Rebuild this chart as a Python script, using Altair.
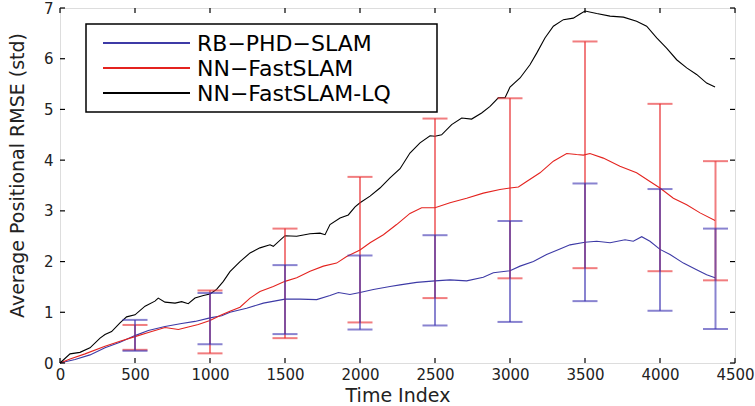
import altair as alt
import pandas as pd

# ---------------- data ----------------
series_names = ["RB\u2212PHD\u2212SLAM", "NN\u2212FastSLAM", "NN\u2212FastSLAM-LQ"]
series_colors = ["#3d3aa6", "#e4231f", "#000000"]

lq_t = [0, 67, 133, 200, 267, 300, 344, 400, 444, 500, 567, 633, 655, 700, 767, 811, 855, 900,
        956, 1000, 1044, 1089, 1133, 1200, 1267, 1333, 1400, 1422, 1500, 1578, 1667, 1733, 1767,
        1800, 1867, 1922, 1967, 2000, 2067, 2133, 2200, 2267, 2333, 2400, 2467, 2500, 2544, 2611,
        2678, 2744, 2811, 2867, 2922, 2967, 3000, 3067, 3133, 3178, 3233, 3289, 3356, 3422, 3467,
        3500, 3578, 3667, 3756, 3844, 3911, 3978, 4044, 4111, 4178, 4244, 4311, 4367]
lq_v = [0.00, 0.18, 0.21, 0.30, 0.49, 0.56, 0.62, 0.79, 0.91, 0.95, 1.12, 1.22, 1.28, 1.20, 1.18,
        1.21, 1.17, 1.28, 1.33, 1.36, 1.45, 1.61, 1.80, 2.00, 2.17, 2.27, 2.33, 2.30, 2.51, 2.50,
        2.55, 2.56, 2.53, 2.73, 2.86, 2.92, 3.08, 3.16, 3.29, 3.45, 3.65, 3.83, 4.14, 4.34, 4.48,
        4.47, 4.50, 4.70, 4.83, 4.81, 4.93, 5.06, 5.23, 5.23, 5.44, 5.62, 5.88, 6.11, 6.41, 6.64,
        6.77, 6.80, 6.88, 6.94, 6.89, 6.84, 6.82, 6.74, 6.64, 6.41, 6.21, 5.98, 5.82, 5.69, 5.52,
        5.44]

nn_t = [0, 67, 167, 300, 400, 500, 589, 700, 789, 855, 922, 1000, 1078, 1133, 1200, 1267, 1333,
        1422, 1500, 1578, 1667, 1756, 1844, 1911, 2000, 2067, 2156, 2244, 2333, 2411, 2500, 2600,
        2711, 2822, 2933, 3000, 3056, 3111, 3200, 3289, 3378, 3444, 3489, 3533, 3622, 3733, 3844,
        3933, 4000, 4089, 4178, 4267, 4367]
nn_v = [0.00, 0.08, 0.18, 0.33, 0.43, 0.52, 0.60, 0.70, 0.66, 0.71, 0.76, 0.84, 0.95, 1.02, 1.10,
        1.28, 1.41, 1.51, 1.61, 1.68, 1.81, 1.91, 1.97, 2.10, 2.23, 2.37, 2.53, 2.73, 2.95, 3.06,
        3.06, 3.16, 3.25, 3.35, 3.42, 3.45, 3.47, 3.58, 3.75, 3.98, 4.13, 4.11, 4.10, 4.13, 4.04,
        3.88, 3.75, 3.58, 3.45, 3.25, 3.12, 2.96, 2.81]

rb_t = [0, 100, 200, 300, 400, 500, 589, 700, 811, 900, 1000, 1078, 1133, 1244, 1356, 1500, 1600,
        1711, 1800, 1856, 1933, 2000, 2089, 2200, 2267, 2378, 2500, 2600, 2711, 2822, 2889, 3000,
        3067, 3156, 3244, 3333, 3400, 3500, 3578, 3667, 3767, 3822, 3878, 3933, 4000, 4067, 4156,
        4244, 4311, 4367]
rb_v = [0.00, 0.07, 0.16, 0.30, 0.41, 0.54, 0.64, 0.72, 0.78, 0.82, 0.89, 0.93, 1.00, 1.08, 1.18,
        1.26, 1.26, 1.25, 1.33, 1.39, 1.35, 1.39, 1.45, 1.51, 1.54, 1.59, 1.62, 1.64, 1.62, 1.69,
        1.78, 1.82, 1.91, 2.00, 2.14, 2.25, 2.33, 2.38, 2.40, 2.37, 2.43, 2.40, 2.49, 2.40, 2.24,
        2.14, 1.97, 1.84, 1.74, 1.68]

err_t = [500, 1000, 1500, 2000, 2500, 3000, 3500, 4000, 4370]
nn_err_hi = [0.75, 1.43, 2.65, 3.67, 4.82, 5.22, 6.34, 5.11, 3.98]
nn_err_lo = [0.26, 0.19, 0.49, 0.80, 1.28, 1.67, 1.87, 1.81, 1.63]
rb_err_hi = [0.85, 1.38, 1.93, 2.12, 2.52, 2.80, 3.54, 3.43, 2.65]
rb_err_lo = [0.24, 0.37, 0.57, 0.66, 0.74, 0.81, 1.22, 1.03, 0.67]

x_ticks = [0, 500, 1000, 1500, 2000, 2500, 3000, 3500, 4000, 4500]
y_ticks = [0, 1, 2, 3, 4, 5, 6, 7]

# ---------------- build tables ----------------
curves = pd.concat([
    pd.DataFrame({"t": rb_t, "v": rb_v, "series": series_names[0]}),
    pd.DataFrame({"t": nn_t, "v": nn_v, "series": series_names[1]}),
    pd.DataFrame({"t": lq_t, "v": lq_v, "series": series_names[2]}),
], ignore_index=True)

W, H = 675, 355
xs = alt.Scale(domain=[0, 4500], nice=False, zero=False)
ys = alt.Scale(domain=[0, 7], nice=False, zero=False)

x_axis = alt.Axis(values=x_ticks, format="d", ticks=False, domain=False, grid=False, labelFontSize=15,
                  labelPadding=4, title="Time Index", titleFontSize=19, titleFontWeight="normal",
                  titlePadding=4, labelColor="#222", titleColor="#222", labelFlush=False,
                  labelOverlap=False)
y_axis = alt.Axis(values=y_ticks, format="d", ticks=False, domain=False, grid=False, labelFontSize=15,
                  labelPadding=7, title="Average Positional RMSE (std)", titleFontSize=19,
                  titleFontWeight="normal", titleX=-43, titleY=167, titleBaseline="middle",
                  titleAngle=270, labelColor="#222", titleColor="#222", labelFlush=False,
                  labelOverlap=False)

lines = alt.Chart(curves).mark_line(strokeWidth=1.1).encode(
    x=alt.X("t:Q", scale=xs, axis=x_axis),
    y=alt.Y("v:Q", scale=ys, axis=y_axis),
    color=alt.Color("series:N", scale=alt.Scale(domain=series_names, range=series_colors), legend=None),
    detail="series:N",
)


def errbars(lo, hi, color, opacity):
    d = pd.DataFrame({"t": err_t, "lo": lo, "hi": hi})
    base = alt.Chart(d)
    stem = base.mark_rule(color=color, strokeWidth=2, opacity=opacity).encode(
        x=alt.X("t:Q", scale=xs), y=alt.Y("lo:Q", scale=ys), y2="hi:Q")
    cap_hi = base.mark_tick(color=color, orient="horizontal", size=25, thickness=2, opacity=opacity).encode(
        x=alt.X("t:Q", scale=xs), y=alt.Y("hi:Q", scale=ys))
    cap_lo = base.mark_tick(color=color, orient="horizontal", size=25, thickness=2, opacity=opacity).encode(
        x=alt.X("t:Q", scale=xs), y=alt.Y("lo:Q", scale=ys))
    return [stem, cap_hi, cap_lo]


err_layers = errbars(nn_err_lo, nn_err_hi, "#e8262a", 0.6) + errbars(rb_err_lo, rb_err_hi, "#3a30b0", 0.6)

# inward matlab-style ticks
xt = alt.Chart(pd.DataFrame({"t": x_ticks}))
yt = alt.Chart(pd.DataFrame({"v": y_ticks}))
tick_layers = [
    xt.mark_rule(color="black", strokeWidth=1.2).encode(x=alt.X("t:Q", scale=xs), y=alt.value(H), y2=alt.value(H - 5)),
    xt.mark_rule(color="black", strokeWidth=1.2).encode(x=alt.X("t:Q", scale=xs), y=alt.value(0), y2=alt.value(5)),
    yt.mark_rule(color="black", strokeWidth=1.2).encode(y=alt.Y("v:Q", scale=ys), x=alt.value(0), x2=alt.value(5)),
    yt.mark_rule(color="black", strokeWidth=1.2).encode(y=alt.Y("v:Q", scale=ys), x=alt.value(W), x2=alt.value(W - 5)),
]

# legend drawn by hand (box, sample lines, labels)
one = alt.Chart(pd.DataFrame({"a": [0]}))
legend_layers = [one.mark_rect(fill="white", stroke="black", strokeWidth=1.5).encode(
    x=alt.value(26), x2=alt.value(377), y=alt.value(16), y2=alt.value(104))]
for i, (name, col) in enumerate(zip(series_names, series_colors)):
    yy = 35 + 25 * i
    legend_layers.append(one.mark_rule(color=col, strokeWidth=2.2).encode(
        x=alt.value(43), x2=alt.value(130), y=alt.value(yy)))
    legend_layers.append(alt.Chart(pd.DataFrame({"label": [name]})).mark_text(
        align="left", baseline="middle", fontSize=22, color="black", dy=1).encode(
        x=alt.value(137), y=alt.value(yy), text="label:N"))

chart = alt.layer(lines, *err_layers, *tick_layers, *legend_layers).properties(
    width=W, height=H,
    autosize=alt.AutoSizeParams(type="none"),
    padding={"left": 60, "top": 8, "right": 20, "bottom": 43},
    background="white",
).configure_view(stroke="black", strokeWidth=1.6).configure(font="DejaVu Sans")

chart.save("out.html", embed_options={"renderer": "svg", "actions": False})
